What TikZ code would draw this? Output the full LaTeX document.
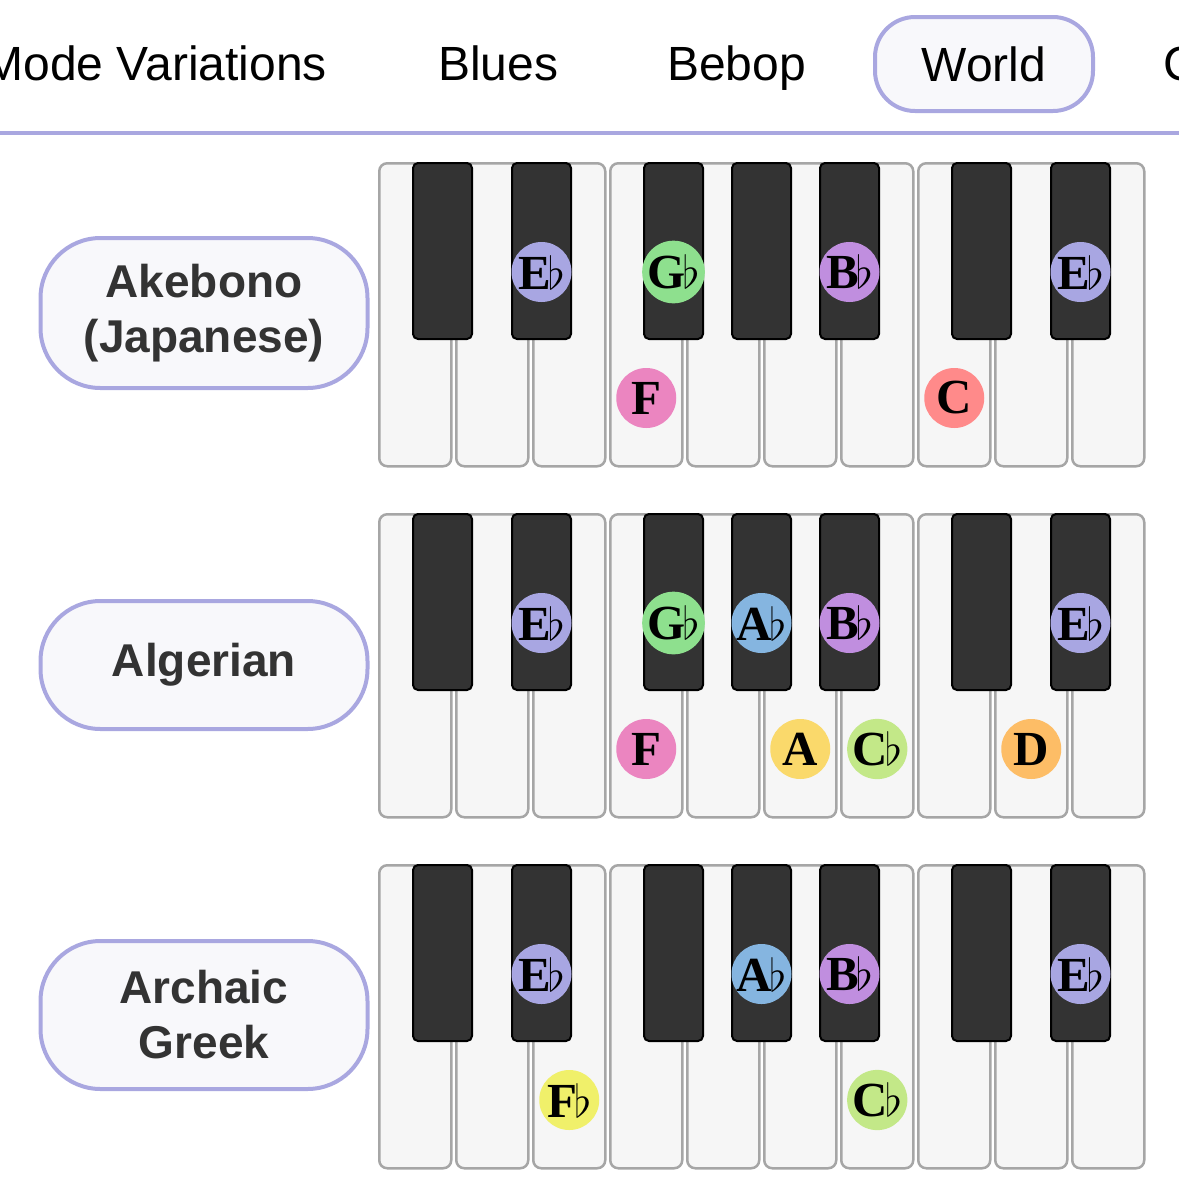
\documentclass[tikz,border=0pt]{standalone}
\usepackage{fontspec}
\setmainfont{Liberation Sans}
\newfontfamily\notefont{Liberation Serif}

\definecolor{lav}{HTML}{A9A7E0}
\definecolor{pillfill}{HTML}{F8F8FB}
\definecolor{keywhite}{HTML}{F6F6F6}
\definecolor{keygray}{HTML}{A6A6A6}
\definecolor{keyblack}{HTML}{333333}
\definecolor{textgray}{HTML}{333333}
\definecolor{ebcol}{HTML}{A8A6E2}
\definecolor{gbcol}{HTML}{8EE08E}
\definecolor{bbcol}{HTML}{C08EDF}
\definecolor{fcol}{HTML}{EB85C0}
\definecolor{ccol}{HTML}{FF8A8A}
\definecolor{abcol}{HTML}{85B5E0}
\definecolor{acol}{HTML}{FAD96B}
\definecolor{cbcol}{HTML}{C3E888}
\definecolor{dcol}{HTML}{FDBD66}
\definecolor{fbcol}{HTML}{F0F06A}

\newcommand{\noteflat}{\kern-3pt\resizebox{!}{34pt}{$\flat$}}

\begin{document}
\begin{tikzpicture}[x=1pt, y=-1pt,
    tab/.style={font=\fontsize{48}{48}\selectfont, text=black, inner sep=0pt},
    tabsel/.style={draw=lav, fill=pillfill, line width=4pt, rounded corners=40pt, minimum width=218pt, minimum height=94pt, font=\fontsize{48}{48}\selectfont},
    scalename/.style={draw=lav, fill=pillfill, line width=4pt, rounded corners=60pt, minimum width=327pt, align=center, text=textgray, font=\bfseries\fontsize{46}{55}\selectfont},
    whitekey/.style={draw=keygray, fill=keywhite, line width=2.5pt, rounded corners=8pt, minimum width=72pt, minimum height=303pt, inner sep=0pt},
    blackkey/.style={draw=black, fill=keyblack, line width=2pt, rounded corners=5pt, minimum width=59pt, minimum height=176pt, inner sep=0pt},
    note/.style={circle, minimum size=60pt, inner sep=0pt, font=\notefont\bfseries\fontsize{49}{49}\selectfont}]
    \useasboundingbox (0,0) rectangle (1179,1179);
    \clip (0,0) rectangle (1179,1179);
    % tabs
    \node[tab, anchor=base east] (modes) at (327,80) {Mode Variations};
    \node[tab, anchor=base west] (blues) at (438,80) {Blues};
    \node[tab, anchor=base west] (bebop) at (667,80) {Bebop};
    \node[tabsel] (world) at (984,64) {World};
    \node[tab, anchor=base west] (more) at (1163,80) {C};
    \draw[lav, line width=4pt] (0,133) -- (1179,133);
    % keyboards
    \foreach \r/\top in {1/162, 2/513, 3/864} {
        \foreach \i in {0,...,9}
            \node[whitekey, anchor=north west] (w\r-\i) at (378+77*\i,\top) {};
        \foreach \bx [count=\j] in {412, 511, 643, 731, 819, 951, 1050}
            \node[blackkey, anchor=north west] (b\r-\j) at (\bx,\top) {};
    }
    % scale names
    \node[scalename, minimum height=150pt] (akebono) at (204,313) {Akebono\\(Japanese)};
    \node[scalename, minimum height=128pt] (algerian) at (204,665) {Algerian};
    \node[scalename, minimum height=148pt] (archaic) at (204,1015) {Archaic\\Greek};
    % Akebono notes
    \node[note, fill=ebcol] (ak-eb) at ([yshift=-110pt]b1-2.north) {E\noteflat};
    \node[note, fill=fcol] (ak-f) at ([yshift=-236pt]w1-3.north) {F};
    \node[note, fill=gbcol] (ak-gb) at ([yshift=-110pt]b1-3.north) {G\noteflat};
    \node[note, fill=bbcol] (ak-bb) at ([yshift=-110pt]b1-5.north) {B\noteflat};
    \node[note, fill=ccol] (ak-c) at ([yshift=-236pt]w1-7.north) {C};
    \node[note, fill=ebcol] (ak-eb2) at ([yshift=-110pt]b1-7.north) {E\noteflat};
    % Algerian notes
    \node[note, fill=ebcol] (al-eb) at ([yshift=-110pt]b2-2.north) {E\noteflat};
    \node[note, fill=fcol] (al-f) at ([yshift=-236pt]w2-3.north) {F};
    \node[note, fill=gbcol] (al-gb) at ([yshift=-110pt]b2-3.north) {G\noteflat};
    \node[note, fill=abcol] (al-ab) at ([yshift=-110pt]b2-4.north) {A\noteflat};
    \node[note, fill=acol] (al-a) at ([yshift=-236pt]w2-5.north) {A};
    \node[note, fill=bbcol] (al-bb) at ([yshift=-110pt]b2-5.north) {B\noteflat};
    \node[note, fill=cbcol] (al-cb) at ([yshift=-236pt]w2-6.north) {C\noteflat};
    \node[note, fill=dcol] (al-d) at ([yshift=-236pt]w2-8.north) {D};
    \node[note, fill=ebcol] (al-eb2) at ([yshift=-110pt]b2-7.north) {E\noteflat};
    % Archaic Greek notes
    \node[note, fill=ebcol] (ar-eb) at ([yshift=-110pt]b3-2.north) {E\noteflat};
    \node[note, fill=fbcol] (ar-fb) at ([yshift=-236pt]w3-2.north) {F\noteflat};
    \node[note, fill=abcol] (ar-ab) at ([yshift=-110pt]b3-4.north) {A\noteflat};
    \node[note, fill=bbcol] (ar-bb) at ([yshift=-110pt]b3-5.north) {B\noteflat};
    \node[note, fill=cbcol] (ar-cb) at ([yshift=-236pt]w3-6.north) {C\noteflat};
    \node[note, fill=ebcol] (ar-eb2) at ([yshift=-110pt]b3-7.north) {E\noteflat};
\end{tikzpicture}
\end{document}
